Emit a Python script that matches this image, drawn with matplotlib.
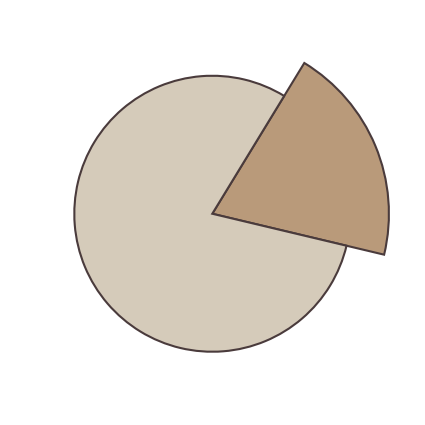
import matplotlib
matplotlib.use('Agg')
import matplotlib.pyplot as plt

# slice values (small one is pulled out by radius)
labels = ['A', 'B']
values = [20, 80]
colors = ['#b99a7a', '#d5cbba']
radii = [1.28, 1.0]

fig = plt.figure(figsize=(4.25, 4.25), dpi=100)
ax = fig.add_axes([0, 0, 1, 1])

wedges, _ = ax.pie(values, colors=colors, startangle=-13.4, counterclock=True,
                   wedgeprops=dict(edgecolor='#4a3b3c', linewidth=1.5))
for w, r in zip(wedges, radii):
    w.set_radius(r)

ax.set_xlim(-1.538, 1.541)
ax.set_ylim(-1.531, 1.549)
ax.set_aspect('equal')
ax.axis('off')

fig.savefig('out.png', dpi=100)
